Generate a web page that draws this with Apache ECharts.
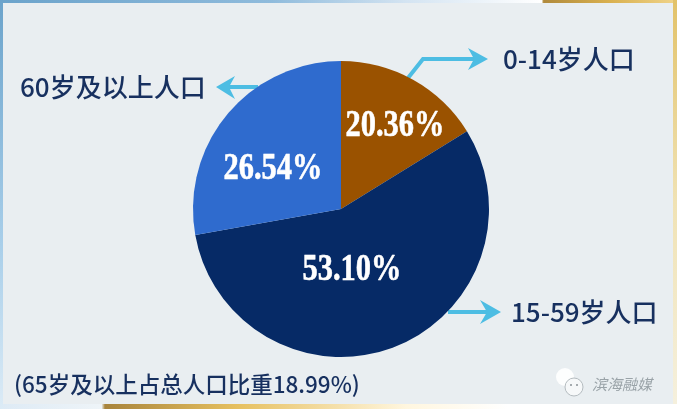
<!DOCTYPE html>
<html>
<head>
<meta charset="utf-8">
<style>html,body{margin:0;padding:0;background:#fff}#c{width:677px;height:409px}</style>
<script src="https://cdn.jsdelivr.net/npm/echarts@6/dist/echarts.min.js"></script>
</head>
<body>
<div id="c"></div>
<script>
// Slice sizes as drawn in the picture (they differ from the printed percentages)
const groups = ['0-14岁人口', '15-59岁人口', '60岁及以上人口'];
const drawnShares = [16.2, 56.0, 27.8];
const printedLabels = ['20.36%', '53.10%', '26.54%'];
const sliceColors = ['#9a5200', '#062a66', '#2f6bce'];
const note = '(65岁及以上占总人口比重18.99%)';
const watermark = '滨海融媒';

const CJK = '"Noto Sans CJK SC","Noto Sans",sans-serif';
const labelCentres = [[395, 126], [352, 270], [273, 169]];
const arrowColor = '#4dbde3';
const ink = '#17305f';

function arrow(points, head) {
  return [
    {type:'polyline', z:1, shape:{points}, style:{stroke:arrowColor, lineWidth:4, fill:null}},
    {type:'polygon', z:1, shape:{points:head}, style:{fill:arrowColor}}
  ];
}
function label(text, x, y, size) {
  return {type:'text', z:3, x, y, style:{text, fill:ink, font:'500 '+size+'px '+CJK, textVerticalAlign:'middle'}};
}
const grad = (x,y,x2,y2,stops) => ({type:'linear', x, y, x2, y2, global:false, colorStops:stops.map(s=>({offset:s[0], color:s[1]}))});

const graphic = [
  {type:'rect', z:-3, shape:{x:0,y:0,width:677,height:3}, style:{fill:grad(0,0,1,0,[[0,'#6ba3cb'],[0.4,'#8fbbdc'],[0.6,'#d4e4f2'],[0.8,'#ffffff'],[0.803,'#b08a3c'],[0.9,'#d9b04f'],[1,'#f0d48a']])}},
  {type:'rect', z:-3, shape:{x:0,y:404,width:677,height:5}, style:{fill:grad(0,0,1,0,[[0,'#ddeaf5'],[0.15,'#eef4f8'],[0.155,'#a8843c'],[0.35,'#e6c060'],[0.6,'#fff6df'],[0.75,'#ffffff'],[1,'#ffffff']])}},
  {type:'rect', z:-3, shape:{x:0,y:0,width:3,height:409}, style:{fill:grad(0,0,0,1,[[0,'#6ba3cb'],[0.6,'#a9cfea'],[1,'#dcebf6']])}},
  {type:'rect', z:-3, shape:{x:673,y:0,width:4,height:404}, style:{fill:grad(0,0,0,1,[[0,'#e2c269'],[0.5,'#f0e2b4'],[1,'#f5f0dd']])}},
  {type:'rect', z:-2, shape:{x:3,y:3,width:670,height:401}, style:{fill:'#e9eef1'}},
  ...arrow([[258,87],[228,87]], [[216,87],[235,76],[229,87],[235,99]]),
  ...arrow([[408,78],[423,59],[478,59]], [[488,59],[468,48],[474,59],[468,70]]),
  ...arrow([[448,312],[490,312]], [[501,312],[480,300],[487,312],[480,324]]),
  label(groups[2], 20, 87, 26),
  label(groups[0], 503, 59, 26),
  label(groups[1], 511, 312, 26),
  label(note, 14, 384, 22.5),
  ...printedLabels.map((text,i)=>({type:'text', z:10, x:labelCentres[i][0], y:labelCentres[i][1], scaleX:0.8,
    style:{text, fill:'#ffffff', stroke:'#ffffff', lineWidth:0.6, font:'bold 38px "Liberation Serif",serif', textAlign:'center', textVerticalAlign:'middle'}})),
  // WeChat-style watermark glyph
  {type:'circle', z:1, shape:{cx:565,cy:377,r:9}, style:{fill:'#ffffff',opacity:0.9}},
  {type:'circle', z:2, shape:{cx:574,cy:387,r:9}, style:{fill:'#f6f8f9',stroke:'#b5bcc0',lineWidth:1}},
  {type:'circle', z:3, shape:{cx:571,cy:385,r:1}, style:{fill:'#8a9296'}},
  {type:'circle', z:3, shape:{cx:577,cy:385,r:1}, style:{fill:'#8a9296'}},
  {type:'text', z:3, x:592, y:384, style:{text:watermark, fill:'#9aa3a8', font:'italic 15px '+CJK, textVerticalAlign:'middle'}}
];

const chart = echarts.init(document.getElementById('c'), null, {renderer:'canvas'});
chart.setOption({
  animation:false,
  backgroundColor:'#ffffff',
  graphic:{elements:graphic},
  series:[{
    type:'pie',
    center:[341,209],
    radius:[0,148],
    startAngle:90,
    clockwise:true,
    silent:true,
    data:groups.map((name,i)=>({name, value:drawnShares[i], itemStyle:{color:sliceColors[i]}})),
    label:{show:false},
    labelLine:{show:false}
  }]
});
</script>
</body>
</html>
